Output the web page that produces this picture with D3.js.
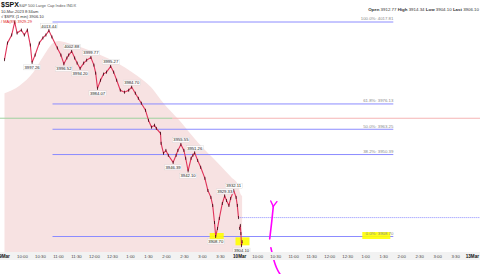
<!DOCTYPE html>
<html><head><meta charset="utf-8">
<script src="https://cdn.jsdelivr.net/npm/d3@7"></script>
<style>body{margin:0;background:#fff;} svg{display:block;font-family:Arial,"Liberation Sans",sans-serif;}</style>
</head><body><svg id="c" width="480" height="274"></svg>
<script>
// ---- data ----
const day1Minutes = [0,5,12,17,21,28,33,38,43,46,51,58,64,69,74,79,88,94,99,104,107,112,117,121,126,132,137,144,149,152,155,160,165,170,177,182,187,193,200,207,212,218,223,228,235,240,245,250,253,260,261,265,269,273,281,286,289,294,299,302,306,311,314,317,322,327,334,339,344,347,350,352,355,358,363,367,370,374,377,382,386,388,390];
const day1Prices = [3998.66,4007.1,4011.2,4017.81,4012.2,4013.7,4011.2,4013.7,4006.1,3997.26,4001.0,4007.1,4009.7,4011.2,4013.44,4010.2,4004.6,4001.0,3996.52,3999.5,4001.0,4002.88,3999.5,3996.9,3994.20,3996.9,3998.4,3999.77,3995.9,3991.8,3984.07,3988.2,3991.3,3992.3,3995.27,3992.3,3988.2,3983.1,3982.1,3983.1,3984.70,3981.6,3979.0,3976.5,3972.9,3967.8,3964.3,3965.3,3963.7,3961.2,3956.1,3951.0,3952.5,3950.0,3946.39,3950.0,3952.5,3955.55,3952.5,3948.5,3942.10,3948.5,3950.0,3951.26,3947.4,3943.9,3938.3,3932.1,3928.6,3924.5,3915.8,3908.70,3912.8,3917.9,3925.5,3929.33,3927.0,3924.5,3928.1,3932.11,3928.6,3924.5,3918.32];
const day2Minutes = [0,1,2,3,4];
const day2Prices = [3912.77,3914.34,3910.2,3904.10,3906.10];
const maDays = [0,0,0,0,0,0,0,0,0,0,0,0,0,0,0,0,0,0,1,1];
const maMinutes = [0,26,48,64,81,90,105,131,160,188,215,244,265,291,322,356,378,390,0,4];
const maValues = [3981.6,3985.7,3992.3,4000.0,4007.1,4008.1,4007.1,4004.6,4001.0,3996.9,3991.8,3984.7,3976.5,3967.9,3956.6,3945.9,3938.8,3934.7,3931.5,3929.29];
const fibNames = ["100.0%","61.8%","50.0%","38.2%","0.0%"];
const fibValues = [4017.81,3976.13,3963.25,3950.39,3908.70];
const peakDays = [0,0,0,0,0,0,0,0,0,0,0,0,0,0,0,0,1];
const peakMinutes = [74,46,99,112,126,144,155,177,212,294,281,317,306,352,367,382,3];
const peakValues = [4013.44,3997.26,3996.52,4002.88,3994.20,3999.77,3984.07,3995.27,3984.70,3955.55,3946.39,3951.26,3942.10,3908.70,3929.33,3932.11,3904.10];
const peakSide = ["up","dn","dn","up","dn","up","dn","up","up","up","dn","up","dn","dn","up","up","dn"];
const timeLabels = ["10:00","10:30","11:00","11:30","12:00","12:30","1:00","1:30","2:00","2:30","3:00","3:30"];
const dayLabels = ["9Mar","10Mar","13Mar"];
const prevClose = 3918.32;
const alertLevel = 3968.86;
const alertSplitMinute = 280;
const fibStartMinute = 80, fibEndMinute = 648;
const header = {sym:"$SPX", name:"S&P 500 Large Cap Index  INDX", date:"10-Mar-2023 8:34am", series:"$SPX (1 min) 3906.10", ma:"MA(89) 3929.29"};
const ohlcNames = ["Open","High","Low","Last"];
const ohlcValues = ["3912.77","3914.34","3904.10","3906.10"];

// ---- scales ----
const DAY = 392;
const idx = (d,m) => d*DAY + m;
const W = 480, H = 274;
const x = d3.scaleLinear().domain([0, 792.5]).range([4.5, 480]);
const y = d3.scaleLinear().domain([3908.70, 4017.81]).range([236.5, 22]);
const plotBottom = 252;

const svg = d3.select("#c");

// MA area
const maPts = maValues.map((v,i)=>({i:idx(maDays[i],maMinutes[i]), v}));
svg.append("path").datum(maPts)
  .attr("d", d3.area().x(d=>x(d.i)).y0(plotBottom).y1(d=>y(d.v)).curve(d3.curveMonotoneX))
  .attr("fill","#f7e2e2");

// alert line (green then pink)
svg.append("line").attr("x1",0).attr("x2",x(alertSplitMinute)).attr("y1",y(alertLevel)).attr("y2",y(alertLevel))
  .attr("stroke","#9fd09f").attr("stroke-width",1);
svg.append("line").attr("x1",x(alertSplitMinute)).attr("x2",W).attr("y1",y(alertLevel)).attr("y2",y(alertLevel))
  .attr("stroke","#f5b5b5").attr("stroke-width",1.2);

// fib lines
fibValues.forEach((v,i)=>{
  svg.append("line").attr("x1",x(fibStartMinute)).attr("x2",x(fibEndMinute))
    .attr("y1",y(v)).attr("y2",y(v)).attr("stroke","#8c8cff").attr("stroke-width",1);
});

// prev close dotted
svg.append("line").attr("x1",x(idx(1,0))).attr("x2",W).attr("y1",y(prevClose)).attr("y2",y(prevClose))
  .attr("stroke","#8c8cff").attr("stroke-width",1).attr("stroke-dasharray","1,1");

// yellow highlights
const hl = [[idx(0,352),3908.70,14],[idx(1,3),3906.5,14]];
hl.forEach(h=>{
  svg.append("rect").attr("x",x(h[0])-6).attr("y",y(h[1])-3.5).attr("width",h[2]).attr("height",8)
    .attr("fill","#ffff00").attr("opacity",0.9);
});
svg.append("rect").attr("x",x(fibEndMinute)-31).attr("y",y(3908.70)-4.5).attr("width",28).attr("height",7)
  .attr("fill","#ffff00").attr("opacity",0.9);

// fib labels
fibValues.forEach((v,i)=>{
  svg.append("text").attr("x",x(fibEndMinute)).attr("y",y(v)-1.6).attr("text-anchor","end")
    .attr("font-size",4.3).attr("fill","#888").text(fibNames[i]+": "+v.toFixed(2));
});

// price line
const line = d3.line().x(d=>x(d.i)).y(d=>y(d.v));
const p1 = day1Prices.map((v,i)=>({i:idx(0,day1Minutes[i]),v}));
const p2 = day2Prices.map((v,i)=>({i:idx(1,day2Minutes[i]),v}));
[p1,p2].forEach(p=>{
  svg.append("path").datum(p).attr("d",line).attr("fill","none").attr("stroke","#e0345a").attr("stroke-width",1.1);
  svg.selectAll(null).data(p).enter().append("rect")
    .attr("x",d=>x(d.i)-0.4).attr("y",d=>y(d.v)-1.5).attr("width",0.8).attr("height",3).attr("fill","#3a0a14");
});

// peak labels
peakValues.forEach((v,i)=>{
  const px = x(idx(peakDays[i],peakMinutes[i]));
  const py = peakSide[i]==="up" ? y(v)-3 : y(v)+6.5;
  const t = v.toFixed(2);
  const w = t.length*2.3+1;
  svg.append("rect").attr("x",px-w/2).attr("y",py-4).attr("width",w).attr("height",5)
    .attr("fill","#fff").attr("fill-opacity",0.85).attr("stroke","#ccc").attr("stroke-width",0.3);
  svg.append("text").attr("x",px).attr("y",py).attr("text-anchor","middle")
    .attr("font-size",4.2).attr("fill","#222").text(t);
});

// magenta arrows
const arrowUp = [[idx(1,50),3907.5],[idx(1,53),3915],[idx(1,56),3924]];
const arrowDn = [[idx(1,52),3903],[idx(1,60),3892],[idx(1,76),3886]];
function arrow(pts){
  const c = pts.map(p=>[x(p[0]),y(p[1])]);
  svg.append("path").attr("d",d3.line().curve(d3.curveBasis)(c)).attr("fill","none")
    .attr("stroke","#ff00ff").attr("stroke-width",1.6).attr("stroke-linecap","round");
  const a = c[c.length-1], b = c[c.length-2];
  const ang = Math.atan2(a[1]-b[1],a[0]-b[0]);
  [2.6,-2.6].forEach(s=>{
    svg.append("line").attr("x1",a[0]).attr("y1",a[1])
      .attr("x2",a[0]-6*Math.cos(ang+s)).attr("y2",a[1]-6*Math.sin(ang+s))
      .attr("stroke","#ff00ff").attr("stroke-width",1.4).attr("stroke-linecap","round");
  });
}
arrow(arrowUp); arrow(arrowDn);

// x axis
const ax = svg.append("g");
ax.append("rect").attr("x",0).attr("y",plotBottom).attr("width",W).attr("height",8).attr("fill","#f2f2f2");
[0,1].forEach(d=>{
  timeLabels.forEach((t,j)=>{
    ax.append("text").attr("x",x(idx(d,30*(j+1)))).attr("y",258).attr("text-anchor","middle")
      .attr("font-size",4.3).attr("fill","#444").text(t);
  });
});
dayLabels.forEach((t,d)=>{
  const last = d===dayLabels.length-1;
  ax.append("text").attr("x",last ? W-1 : x(idx(d,0))).attr("y",258).attr("text-anchor",last?"end":"middle")
    .attr("font-size",4.6).attr("font-weight","bold").attr("fill","#111").text(t);
});

// header
svg.append("text").attr("x",1).attr("y",7).attr("font-size",7).attr("font-weight","bold").attr("fill","#111").text(header.sym);
svg.append("text").attr("x",19).attr("y",6.5).attr("font-size",4).attr("fill","#555").text(header.name);
svg.append("text").attr("x",1).attr("y",12.5).attr("font-size",4).attr("fill","#333").text(header.date);
svg.append("text").attr("x",1).attr("y",17.5).attr("font-size",4).attr("fill","#333").text("\u221a "+header.series);
svg.append("text").attr("x",1).attr("y",22.5).attr("font-size",4).attr("fill","#e02020").text("/ "+header.ma);
const oh = svg.append("text").attr("x",W-1).attr("y",11).attr("font-size",4.4).attr("fill","#333").attr("text-anchor","end");
ohlcNames.forEach((n,i)=>{
  oh.append("tspan").attr("font-weight","bold").text((i?"  ":"")+n+" ");
  oh.append("tspan").text(ohlcValues[i]);
});
</script></body></html>
